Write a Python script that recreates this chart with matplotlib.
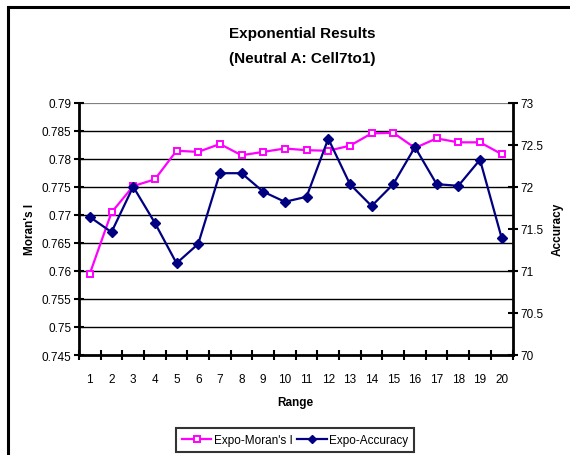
import matplotlib
matplotlib.use("Agg")
import matplotlib.pyplot as plt
from matplotlib.lines import Line2D
import numpy as np

plt.rcParams["font.family"] = ["Liberation Sans", "DejaVu Sans"]

ranges = list(range(1, 21))
morans_i = [0.7595, 0.7704, 0.7751, 0.7763, 0.7814, 0.7812, 0.7826, 0.7806, 0.7812, 0.7818,
            0.7815, 0.7814, 0.7823, 0.7845, 0.7846, 0.7819, 0.7836, 0.7829, 0.7829, 0.7808]
accuracy = [71.64, 71.46, 72.00, 71.57, 71.09, 71.32, 72.16, 72.16, 71.94, 71.82,
            71.88, 72.57, 72.03, 71.77, 72.03, 72.47, 72.03, 72.01, 72.32, 71.39]
left_ticks = [0.745, 0.75, 0.755, 0.76, 0.765, 0.77, 0.775, 0.78, 0.785, 0.79]
right_ticks = [70, 70.5, 71, 71.5, 72, 72.5, 73]

fig = plt.figure(figsize=(5.7, 4.56), dpi=100, facecolor="white", edgecolor="white")
ax = fig.add_axes([79 / 570, 1 - 356 / 456, (512.5 - 79) / 570, (356 - 103.5) / 456])
ax2 = ax.twinx()

# outer chart frame: only the top and left edges fall inside the image
fx, fy = 7.5 / 570, 1 - 7.5 / 456
fig.lines.append(Line2D([fx, 1.0], [fy, fy], transform=fig.transFigure,
                        color="black", linewidth=2.2, solid_capstyle="butt"))
fig.lines.append(Line2D([fx, fx], [0.0, fy], transform=fig.transFigure,
                        color="black", linewidth=2.2, solid_capstyle="projecting"))

ax.set_xlim(0.5, 20.5)
ax.set_ylim(0.745, 0.79)
ax2.set_ylim(70, 73)

# horizontal gridlines, the top one grey
for v in left_ticks[1:-1]:
    ax.axhline(v, color="black", linewidth=1.0, zorder=1)
ax.axhline(0.79, color="#808080", linewidth=1.6, zorder=1)

l1, = ax.plot(ranges, morans_i, color="#FF00FF", linewidth=1.6, marker="s", markersize=5,
              markerfacecolor="white", markeredgecolor="#FF00FF", markeredgewidth=1.4, zorder=3)
l2, = ax2.plot(ranges, accuracy, color="#000080", linewidth=1.6, marker="D", markersize=5,
               markerfacecolor="#000080", markeredgecolor="#000080", zorder=3)

for a in (ax, ax2):
    for s in a.spines.values():
        s.set_visible(False)
ax.spines["left"].set_visible(True)
ax.spines["bottom"].set_visible(True)
ax2.spines["right"].set_visible(True)
for s in (ax.spines["left"], ax.spines["bottom"], ax2.spines["right"]):
    s.set_linewidth(2)

ax.set_yticks(left_ticks)
ax.set_yticklabels([f"{v:g}" for v in left_ticks])
ax2.set_yticks(right_ticks)
ax2.set_yticklabels([f"{v:g}" for v in right_ticks])
ax.tick_params(axis="y", direction="inout", length=7, width=1.5, labelsize=8.5, pad=2)
ax2.tick_params(axis="y", direction="inout", length=7, width=1.5, labelsize=8.5, pad=2)

ax.set_xticks(ranges)
ax.set_xticklabels([str(r) for r in ranges])
ax.set_xticks(np.arange(0.5, 21, 1), minor=True)
ax.tick_params(axis="x", which="major", length=0, labelsize=8.5, pad=13)
ax.tick_params(axis="x", which="minor", direction="inout", length=7, width=1.5)

ax.set_xlabel("Range", fontsize=8.5, fontweight="bold", labelpad=8)
ax.set_ylabel("Moran's I", fontsize=8.5, fontweight="bold", labelpad=4)
ax2.set_ylabel("Accuracy", fontsize=8.5, fontweight="bold", labelpad=6)

fig.text(302 / 570, 1 - 34 / 456, "Exponential Results", ha="center", va="center",
         fontsize=11, fontweight="bold")
fig.text(302 / 570, 1 - 59 / 456, "(Neutral A: Cell7to1)", ha="center", va="center",
         fontsize=11, fontweight="bold")

leg = fig.legend([l1, l2], ["Expo-Moran's I", "Expo-Accuracy"], loc="center",
                 bbox_to_anchor=(295 / 570, 1 - 441 / 456), ncol=2, fontsize=8.5,
                 frameon=True, fancybox=False, edgecolor="black", handlelength=2.5,
                 handletextpad=0.2, columnspacing=0.4, borderpad=0.5, markerscale=0.8)
leg.get_frame().set_linewidth(1.5)

fig.savefig("out.png", dpi=100)
